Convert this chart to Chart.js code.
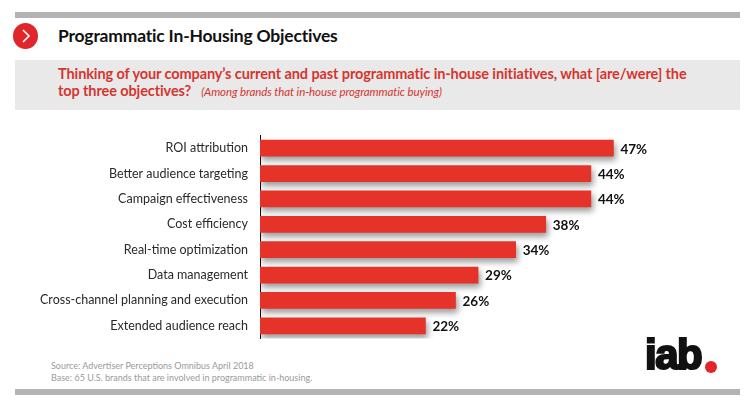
<!DOCTYPE html>
<html><head><meta charset="utf-8">
<script src="https://cdn.jsdelivr.net/npm/chart.js@4"></script>
<style>
html,body{margin:0;padding:0;background:#fff;width:750px;height:408px;overflow:hidden;position:relative;font-family:Lato,"Liberation Sans",sans-serif;}
.topbar{position:absolute;left:15px;top:12px;width:725px;height:6px;background:#b3b3b3;}
.botbar{position:absolute;left:15px;top:389px;width:725px;height:6px;background:#b3b3b3;}
.circle{position:absolute;left:13px;top:23px;width:25px;height:26px;border-radius:50%;background:#e0262b;}
.circle svg{position:absolute;left:0;top:0}
.title{position:absolute;left:58px;top:25px;font-size:17.5px;font-weight:bold;color:#111;letter-spacing:-0.2px;}
.qbox{position:absolute;left:15px;top:60px;width:725px;height:50px;background:#e9e9e9;}
.q{position:absolute;left:58px;top:65px;width:640px;font-size:14.5px;line-height:17px;font-weight:bold;color:#d6352f;letter-spacing:-0.1px;}
.q i{font-weight:normal;font-size:11.5px;margin-left:10px;}
.src{position:absolute;left:51px;top:360px;font-size:9px;line-height:12px;color:#9a9a9a;}
.logo{position:absolute;left:645px;top:334px;font-size:42px;font-weight:bold;color:#111;font-family:"Liberation Sans",Arial,sans-serif;letter-spacing:-1.5px;line-height:42px;-webkit-text-stroke:2.2px #111;}
.dot{position:absolute;left:705px;top:361px;width:12px;height:12px;border-radius:50%;background:#e0262b;}
#c{position:absolute;left:0;top:116px;}
</style></head>
<body>
<div class="topbar"></div>
<div class="circle"><svg width="25" height="26"><polyline points="10,7 16,13 10,19" fill="none" stroke="#fff" stroke-width="1.6"/></svg></div>
<div class="title">Programmatic In-Housing Objectives</div>
<div class="qbox"></div>
<div class="q">Thinking of your company’s current and past programmatic in-house initiatives, what [are/were] the top three objectives?<i>(Among brands that in-house programmatic buying)</i></div>
<canvas id="c" width="720" height="242" style="width:720px;height:242px"></canvas>
<div class="src">Source: Advertiser Perceptions Omnibus April 2018<br>Base: 65 U.S. brands that are involved in programmatic in-housing.</div>
<div class="logo">iab</div>
<div class="dot"></div>
<div class="botbar"></div>
<script>
const categories = ["ROI attribution","Better audience targeting","Campaign effectiveness","Cost efficiency","Real-time optimization","Data management","Cross-channel planning and execution","Extended audience reach"];
const values = [47,44,44,38,34,29,26,22];
const valueLabels = ["47%","44%","44%","38%","34%","29%","26%","22%"];

const shadowPlugin = {
  id:'shadow',
  beforeDatasetDraw(chart){const ctx=chart.ctx;ctx.save();ctx.shadowColor='rgba(0,0,0,0.4)';ctx.shadowBlur=6;ctx.shadowOffsetX=2;ctx.shadowOffsetY=4;},
  afterDatasetDraw(chart){chart.ctx.restore();}
};
const labelPlugin = {
  id:'vlabels',
  afterDatasetsDraw(chart){
    const ctx=chart.ctx;ctx.save();
    ctx.font='bold 13.5px Lato, "Liberation Sans", sans-serif';ctx.fillStyle='#111';ctx.textBaseline='middle';ctx.textAlign='left';
    chart.getDatasetMeta(0).data.forEach((b,i)=>{ctx.fillText(valueLabels[i], b.x+7, b.y+1);});
    ctx.restore();
  }
};
new Chart(document.getElementById('c'),{
  type:'bar',
  data:{labels:categories,datasets:[{data:values,backgroundColor:'#e5332a',barThickness:16}]},
  options:{
    indexAxis:'y',responsive:false,maintainAspectRatio:false,animation:false,devicePixelRatio:1,
    layout:{padding:{left:0,right:84,top:0,bottom:0}},
    plugins:{legend:{display:false},tooltip:{enabled:false}},
    scales:{
      x:{display:false,min:0,max:50},
      y:{
        afterFit(s){s.width=260;},
        grid:{display:false,drawTicks:false},
        border:{display:true,color:'#111',width:1},
        ticks:{color:'#2a2a2a',padding:12,font:{size:12.5,family:'Lato, sans-serif'}}
      }
    }
  },
  plugins:[shadowPlugin,labelPlugin]
});
</script>
</body></html>
